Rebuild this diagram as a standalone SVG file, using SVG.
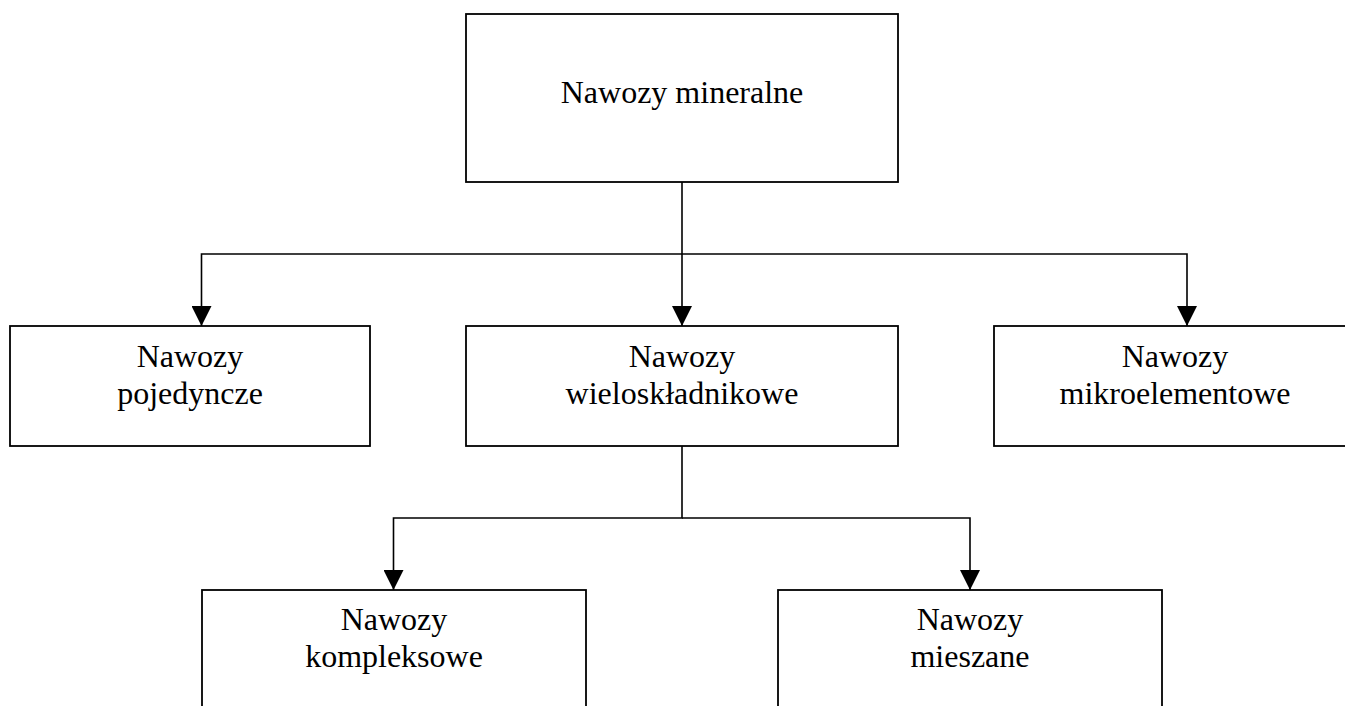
<svg xmlns="http://www.w3.org/2000/svg" width="1345" height="706" viewBox="0 0 1345 706">
<style>
.box{fill:#fff;stroke:#000;stroke-width:1.8}
.t{font-family:"Liberation Serif","Times New Roman",serif;font-size:32px;fill:#000;text-anchor:middle}
.c{fill:none;stroke:#000;stroke-width:1.6}
</style>
<defs>
<marker id="ah" markerUnits="userSpaceOnUse" markerWidth="20" markerHeight="20" refX="20" refY="10" orient="auto" viewBox="0 0 20 20">
<path d="M0,0 L20,10 L0,20 Z" fill="#000"/>
</marker>
</defs>
<rect width="1345" height="706" fill="#fff"/>
<g id="connectors">
<path class="c" d="M682,182 V326" marker-end="url(#ah)"/>
<path class="c" d="M682,254 H201.5 V326" marker-end="url(#ah)"/>
<path class="c" d="M682,254 H1187 V326" marker-end="url(#ah)"/>
<path class="c" d="M682,446 V518 H393.5 V590" marker-end="url(#ah)"/>
<path class="c" d="M682,518 H970 V590" marker-end="url(#ah)"/>
</g>
<g id="n-mineralne">
<rect class="box" x="466" y="14" width="432" height="168"/>
<text class="t" x="682" y="103">Nawozy mineralne</text>
</g>
<g id="n-pojedyncze">
<rect class="box" x="10" y="326" width="360" height="120"/>
<text class="t" x="190" y="367">Nawozy</text>
<text class="t" x="190" y="404">pojedyncze</text>
</g>
<g id="n-wieloskladnikowe">
<rect class="box" x="466" y="326" width="432" height="120"/>
<text class="t" x="682" y="367">Nawozy</text>
<text class="t" x="682" y="404">wieloskładnikowe</text>
</g>
<g id="n-mikroelementowe">
<rect class="box" x="994" y="326" width="362" height="120"/>
<text class="t" x="1175" y="367">Nawozy</text>
<text class="t" x="1175" y="404">mikroelementowe</text>
</g>
<g id="n-kompleksowe">
<rect class="box" x="202" y="590" width="384" height="140"/>
<text class="t" x="394" y="630">Nawozy</text>
<text class="t" x="394" y="667">kompleksowe</text>
</g>
<g id="n-mieszane">
<rect class="box" x="778" y="590" width="384" height="140"/>
<text class="t" x="970" y="630">Nawozy</text>
<text class="t" x="970" y="667">mieszane</text>
</g>
</svg>
